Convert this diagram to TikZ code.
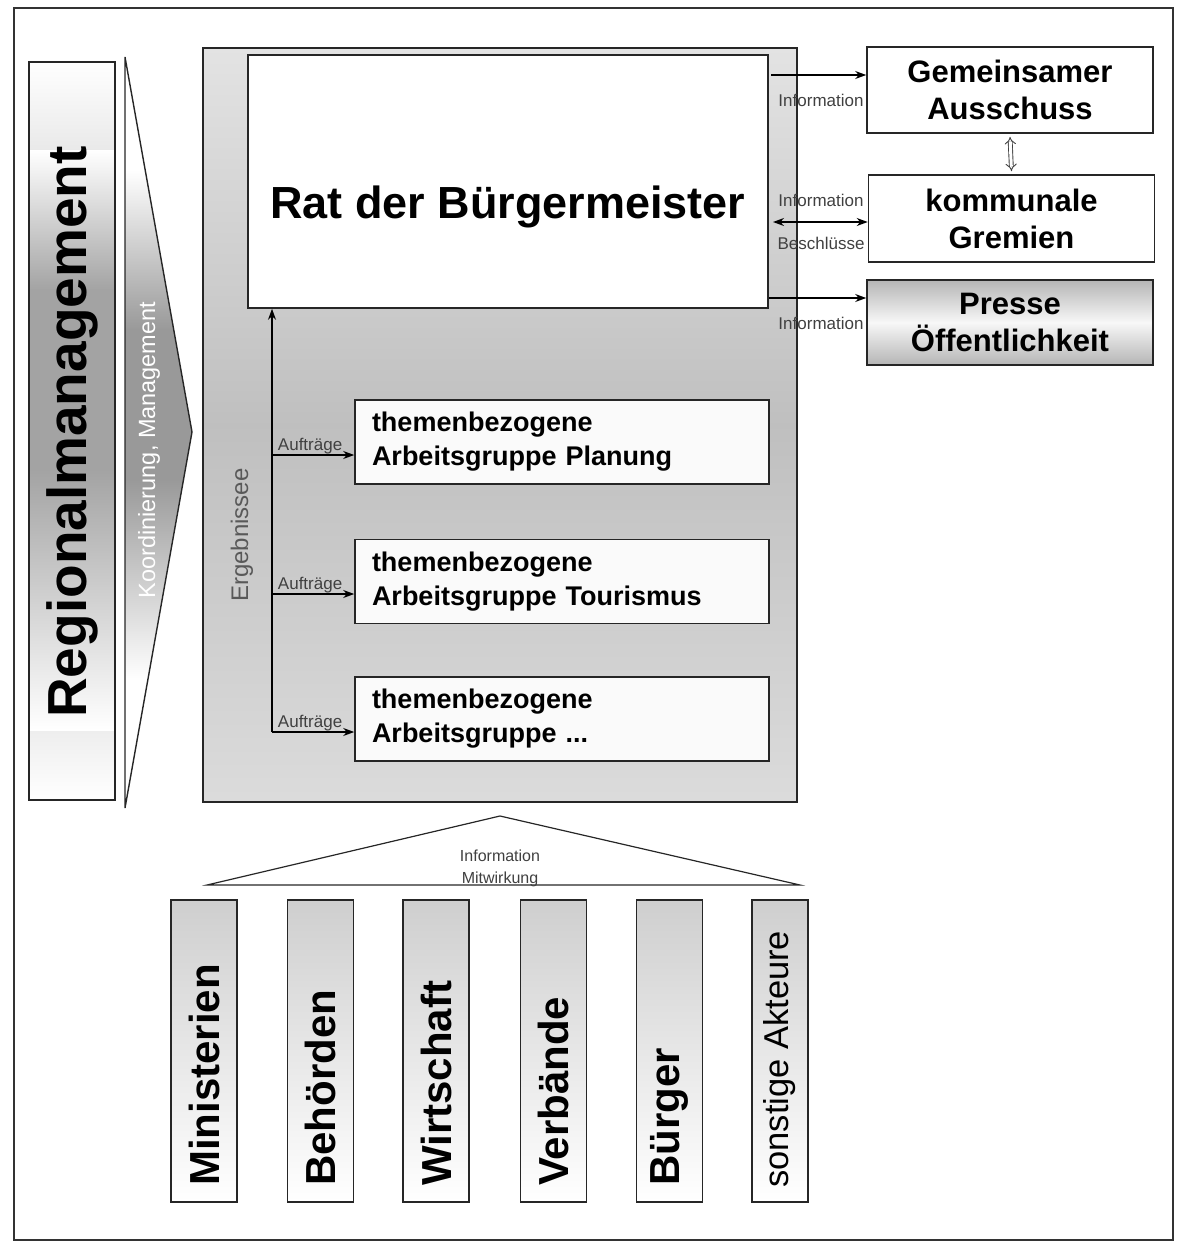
\documentclass[tikz,border=0pt]{standalone}
\usepackage{fontspec}
\setmainfont{Liberation Sans}
\usetikzlibrary{arrows.meta}

\newcommand{\fs}[1]{\fontsize{#1}{#1}\selectfont}

\begin{document}
\begin{tikzpicture}[x=1pt,y=-1pt,
  frame/.style={draw=black!85, line width=1.6pt},
  plainbox/.style={frame, fill=white, inner sep=0pt},
  sidebox/.style={plainbox, minimum width=286, minimum height=86, align=center,
    font=\bfseries\fontsize{31}{37}\selectfont},
  groupbox/.style={plainbox, fill=gray!4, minimum width=414, minimum height=84,
    text width=380, inner xsep=17, align=left, font=\bfseries\fontsize{27}{34}\selectfont},
  actorbox/.style={frame, top color=gray!38, bottom color=white, minimum width=66,
    minimum height=302, inner sep=0pt},
  actortext/.style={rotate=90, anchor=west, inner sep=0pt, font=\bfseries\fs{42}},
  arr/.style={line width=1.3pt, -{Stealth[length=11pt,width=8pt]}},
  smalllabel/.style={font=\fs{17}, text=black!75, inner sep=1pt},
  band/.style={inner sep=0pt, minimum width=85, draw=none},
]
\useasboundingbox (0,0) rectangle (1177,1245);

% outer frame
\draw[line width=1.2pt, black!80] (14,8) rectangle (1173,1240);

% Regionalmanagement box with a grey band across its middle
\path[frame, top color=white, bottom color=white, middle color=gray!72]
  (29,62) rectangle (115,800);
\node[band, minimum height=140, top color=white, bottom color=gray!72] (rmtop) at (72,220) {};
\node[band, minimum height=182, fill=gray!72] (rmmid) at (72,380) {};
\node[band, minimum height=260, top color=gray!72, bottom color=white] (rmbot) at (72,600) {};
\node[frame, minimum width=86, minimum height=738, inner sep=0pt] (rmbox) at (72,431) {};
\node[rotate=90, font=\bfseries\fs{55}] (rm) at (72,432) {Regionalmanagement};

% coordination wedge, grey band clipped to the triangle
\begin{scope}
  \clip (125,57) -- (192,432) -- (125,808) -- cycle;
  \fill[white] (120,50) rectangle (200,815);
  \shade[top color=white, bottom color=gray!80] (120,170) rectangle (200,330);
  \fill[gray!80] (120,329) rectangle (200,481);
  \shade[top color=gray!80, bottom color=white] (120,480) rectangle (200,680);
\end{scope}
\draw[black!85, line width=1.4pt] (125,57) -- (192,432) -- (125,808) -- cycle;
\node[rotate=90, text=white, font=\fs{23.5}] (km) at (149,450) {Koordinierung, Management};

% central grey panel
\path[frame, top color=gray!22, bottom color=gray!28, middle color=gray!50]
  (203,48) rectangle (797,802);

% Rat der Bürgermeister
\node[plainbox, minimum width=520, minimum height=253] (rat) at (508,181.5) {};
\node[font=\bfseries\fs{45}, inner sep=0pt] (rattext) at (508,207) {Rat der Bürgermeister};

% working groups
\node[groupbox] (ag1) at (562,442) {themenbezogene\\Arbeitsgruppe Planung};
\node[groupbox] (ag2) at (562,581.5) {themenbezogene\\Arbeitsgruppe Tourismus};
\node[groupbox] (ag3) at (562,719) {themenbezogene\\Arbeitsgruppe ...};

% results line and assignments
\coordinate (eb) at (272,732);
\coordinate (j1) at (272,455);
\coordinate (j2) at (272,594);
\coordinate (j3) at (272,732);
\draw[arr] (eb) -- (eb |- rat.south);
\node[rotate=90, font=\fs{24}, text=black!65] (erg) at (242,535) {Ergebnissee};
\draw[arr] (j1) -- (j1 -| ag1.west) node[smalllabel, midway, above, inner sep=0pt, yshift=0.5pt, xshift=-3pt] {Aufträge};
\draw[arr] (j2) -- (j2 -| ag2.west) node[smalllabel, midway, above, inner sep=0pt, yshift=0.5pt, xshift=-3pt] {Aufträge};
\draw[arr] (j3) -- (j3 -| ag3.west) node[smalllabel, midway, above, inner sep=0pt, yshift=0.5pt, xshift=-3pt] {Aufträge};

% right-hand committees
\node[sidebox] (ga) at (1010,90) {Gemeinsamer\\Ausschuss};
\node[sidebox, minimum height=87] (kg) at (1011.5,218.5) {kommunale\\Gremien};
\node[sidebox, top color=gray!58, bottom color=gray!58, middle color=gray!6,
  minimum height=85] (pr) at (1010,322.5) {Presse\\Öffentlichkeit};

\coordinate (o1) at (771,75);
\coordinate (o2) at (773,222);
\coordinate (o3) at (769,298);
\draw[arr] (o1) -- (o1 -| ga.west);
\node[smalllabel] (l1) at (821,100) {Information};
\draw[line width=1.3pt, {Stealth[length=11pt,width=8pt]}-{Stealth[length=11pt,width=8pt]}] (o2) -- (o2 -| kg.west);
\node[smalllabel] (l2) at (821,200) {Information};
\node[smalllabel] (l3) at (821,243) {Beschlüsse};
\draw[arr] (o3) -- (o3 -| pr.west);
\node[smalllabel] (l4) at (821,323) {Information};
\draw[line width=0.9pt, double, double distance=3pt, black!75,
  {Implies[length=7pt]}-{Implies[length=7pt]}] ([yshift=-3pt]ga.south) -- ([yshift=3pt]kg.north);

% participation roof
\draw[line width=1.2pt, black!85] (207,885) -- (500,816) -- (800,885) -- cycle;
\node[text=black!75, align=center, inner sep=0pt, font=\fontsize{16}{22}\selectfont] (im) at (500,868)
  {Information\\Mitwirkung};

% actors
\node[actorbox] (a1) at (204,1051) {};
\node[actorbox] (a2) at (320.5,1051) {};
\node[actorbox] (a3) at (436,1051) {};
\node[actorbox] (a4) at (553.5,1051) {};
\node[actorbox] (a5) at (669.5,1051) {};
\node[actorbox, minimum width=56] (a6) at (780,1051) {};
\node[actortext] at (a1.center |- 0,1186) {Ministerien};
\node[actortext] at (a2.center |- 0,1186) {Behörden};
\node[actortext] at (a3.center |- 0,1186) {Wirtschaft};
\node[actortext] at (a4.center |- 0,1186) {Verbände};
\node[actortext] at (a5.center |- 0,1186) {Bürger};
\node[actortext, font=\fs{34.5}] at (a6.center |- 0,1188) {sonstige Akteure};
\end{tikzpicture}
\end{document}
